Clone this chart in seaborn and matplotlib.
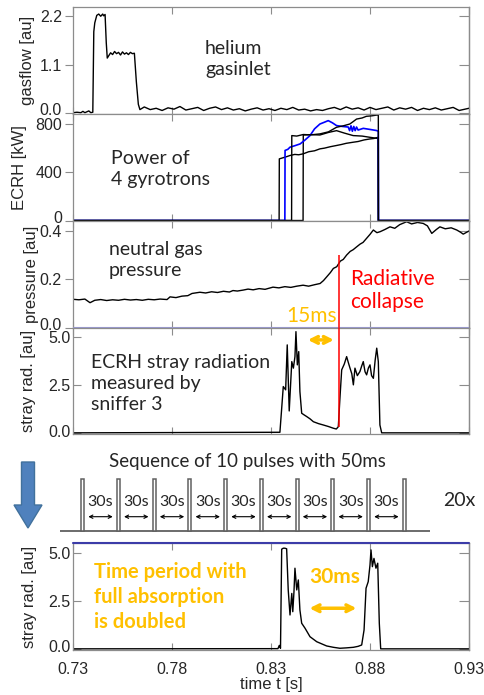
import numpy as np
import pandas as pd
import matplotlib
matplotlib.use("Agg")
import matplotlib.pyplot as plt
import matplotlib.transforms as mtransforms
import seaborn as sns
from matplotlib.patches import FancyArrow

# ---------------- data ----------------
x_ticks = [0.73, 0.78, 0.83, 0.88, 0.93]
x_ticklabels = ["0.73", "0.78", "0.83", "0.88", "0.93"]

gas_t = [0.730, 0.732, 0.734, 0.735, 0.736, 0.737, 0.738, 0.739, 0.7400, 0.7405,
         0.7410, 0.7420, 0.7430, 0.7440, 0.7450, 0.7455, 0.7462, 0.7468, 0.7473, 0.7480,
         0.7490, 0.7500, 0.7510, 0.7520, 0.7530, 0.7540, 0.7550, 0.7560, 0.7570, 0.7580,
         0.7590, 0.7600, 0.7610, 0.7620, 0.7630, 0.7638,
         0.766, 0.769, 0.772, 0.775, 0.778, 0.781, 0.784, 0.787, 0.790, 0.793,
         0.796, 0.799, 0.802, 0.805, 0.808, 0.811, 0.814, 0.817, 0.820, 0.823,
         0.826, 0.829, 0.832, 0.835, 0.838, 0.841, 0.844, 0.847, 0.850, 0.853,
         0.856, 0.859, 0.862, 0.865, 0.868, 0.871, 0.874, 0.877, 0.880, 0.883,
         0.886, 0.889, 0.892, 0.895, 0.898, 0.901, 0.904, 0.907, 0.910, 0.913,
         0.916, 0.919, 0.922, 0.925, 0.928, 0.930]
gas_v = [0.01, 0.02, 0.01, 0.04, 0.01, 0.03, 0.05, 0.01, 0.02, 1.85,
         2.05, 2.22, 2.25, 2.20, 2.25, 2.21, 2.24, 1.60, 1.25, 1.30,
         1.37, 1.33, 1.40, 1.35, 1.38, 1.32, 1.39, 1.34, 1.37, 1.33,
         1.38, 1.35, 1.36, 0.71, 0.20, 0.08,
         0.14, 0.08, 0.11, 0.06, 0.12, 0.09, 0.15, 0.07, 0.10, 0.13,
         0.06, 0.11, 0.14, 0.08, 0.12, 0.07, 0.10, 0.05, 0.09, 0.12,
         0.07, 0.10, 0.06, 0.11, 0.08, 0.13, 0.07, 0.09, 0.05, 0.08,
         0.06, 0.10, 0.13, 0.08, 0.14, 0.09, 0.12, 0.07, 0.13, 0.08,
         0.11, 0.14, 0.07, 0.12, 0.09, 0.13, 0.06, 0.11, 0.08, 0.12,
         0.07, 0.10, 0.13, 0.06, 0.09, 0.11]

gyroA_t = [0.730, 0.8341, 0.8342, 0.8360, 0.8380, 0.8396, 0.8420, 0.8440, 0.8463, 0.8490,
           0.8520, 0.8547, 0.8570, 0.8600, 0.8631, 0.8655, 0.8680, 0.8715, 0.8740, 0.8770,
           0.8799, 0.8820, 0.8841, 0.8842, 0.930]
gyroA_v = [0, 0, 511, 520, 530, 539, 548, 545, 553, 570,
           578, 594, 600, 612, 622, 630, 640, 649, 655, 668,
           676, 680, 690, 0, 0]

gyroB_t = [0.730, 0.8370, 0.8371, 0.8385, 0.8396, 0.8420, 0.8447, 0.8470, 0.8497, 0.8520,
           0.8547, 0.8570, 0.8589, 0.8610, 0.8631, 0.8660, 0.8690, 0.8697, 0.8704, 0.8711,
           0.8718, 0.8725, 0.8732, 0.8740, 0.8766, 0.8800, 0.8833, 0.8842, 0.8843, 0.930]
gyroB_v = [0, 0, 581, 590, 608, 620, 635, 665, 704, 760,
           800, 815, 828, 810, 787, 780, 775, 745, 785, 740,
           780, 745, 775, 750, 764, 755, 746, 740, 0, 0]

gyroC_t = [0.730, 0.8404, 0.8405, 0.8430, 0.8463, 0.8500, 0.8547, 0.8590, 0.8631, 0.8665,
           0.8698, 0.8715, 0.8732, 0.8760, 0.8782, 0.8810, 0.8833, 0.8842, 0.8843, 0.930]
gyroC_v = [0, 0, 704, 700, 713, 710, 718, 735, 773, 785,
           800, 820, 841, 850, 864, 868, 874, 874, 0, 0]

gyroD_t = [0.730, 0.8462, 0.8463, 0.8500, 0.8547, 0.8590, 0.8631, 0.8670, 0.8715, 0.8760,
           0.8799, 0.8841, 0.8842, 0.930]
gyroD_v = [0, 0, 709, 712, 709, 730, 745, 725, 704, 700,
           690, 680, 0, 0]

press_t = [0.730, 0.733, 0.736, 0.7386, 0.741, 0.744, 0.747, 0.750, 0.753, 0.756,
           0.759, 0.762, 0.765, 0.768, 0.771, 0.774, 0.7775, 0.779, 0.782, 0.785,
           0.788, 0.7901, 0.7941, 0.797, 0.800, 0.803, 0.806, 0.809, 0.8108, 0.813,
           0.816, 0.8184, 0.821, 0.824, 0.827, 0.831, 0.834, 0.837, 0.840, 0.843,
           0.8462, 0.849, 0.852, 0.8548, 0.8565, 0.8581, 0.8600, 0.8615, 0.8632, 0.8650,
           0.8665, 0.8682, 0.8700, 0.8715, 0.8733, 0.8750, 0.8765, 0.8783, 0.8800, 0.8817,
           0.8835, 0.8851, 0.8875, 0.8901, 0.8925, 0.895, 0.8985, 0.901, 0.904, 0.9069,
           0.909, 0.9112, 0.9135, 0.9153, 0.918, 0.921, 0.9238, 0.9255, 0.9271, 0.930]
press_v = [0.118, 0.116, 0.119, 0.104, 0.114, 0.117, 0.113, 0.116, 0.114, 0.118,
           0.115, 0.117, 0.114, 0.118, 0.116, 0.119, 0.117, 0.128, 0.125, 0.131,
           0.133, 0.142, 0.147, 0.144, 0.149, 0.146, 0.151, 0.148, 0.154, 0.152,
           0.156, 0.160, 0.157, 0.162, 0.159, 0.168, 0.165, 0.170, 0.167, 0.172,
           0.176, 0.172, 0.178, 0.183, 0.195, 0.210, 0.228, 0.245, 0.252, 0.275,
           0.282, 0.300, 0.315, 0.322, 0.334, 0.345, 0.352, 0.369, 0.385, 0.403,
           0.392, 0.396, 0.405, 0.416, 0.410, 0.425, 0.437, 0.428, 0.434, 0.430,
           0.420, 0.389, 0.405, 0.416, 0.408, 0.412, 0.403, 0.395, 0.386, 0.399]

stray1_t = [0.730, 0.8345, 0.8354, 0.8362, 0.8374, 0.8382, 0.8392, 0.8405, 0.8413, 0.8421,
            0.8426, 0.8433, 0.8440, 0.8446, 0.8455, 0.8468, 0.8480, 0.8497, 0.8514, 0.8540,
            0.8564, 0.8590, 0.8615, 0.8630, 0.8640, 0.8648, 0.8657, 0.8670, 0.8682, 0.8690,
            0.8699, 0.8708, 0.8716, 0.8724, 0.8736, 0.8749, 0.8758, 0.8766, 0.8775, 0.8783,
            0.8792, 0.8800, 0.8808, 0.8817, 0.8826, 0.8834, 0.8842, 0.8850, 0.8859, 0.930]
stray1_v = [0.02, 0.05, 1.30, 2.43, 2.26, 4.60, 1.16, 3.73, 3.39, 3.99,
            5.29, 3.56, 4.25, 2.17, 1.04, 0.95, 0.87, 0.75, 0.60, 0.50,
            0.43, 0.35, 0.26, 0.22, 0.34, 1.80, 3.30, 3.60, 3.99, 3.70,
            3.39, 3.10, 2.52, 3.39, 3.00, 3.21, 3.50, 3.73, 3.20, 3.04,
            3.40, 3.56, 3.00, 2.86, 3.80, 4.43, 3.73, 0.43, 0.02, 0.02]

stray2_t = [0.730, 0.8335, 0.8342, 0.8348, 0.8354, 0.8362, 0.8370, 0.8379, 0.8387, 0.8396,
            0.8405, 0.8410, 0.8416, 0.8421, 0.8430, 0.8438, 0.8446, 0.8455, 0.8472, 0.8497,
            0.8531, 0.8556, 0.8581, 0.8615, 0.8648, 0.8680, 0.8716, 0.8740, 0.8758, 0.8770,
            0.8780, 0.8791, 0.8800, 0.8805, 0.8812, 0.8820, 0.8830, 0.8839, 0.8847, 0.8854,
            0.930]
stray2_v = [0.02, 0.03, 0.20, 0.05, 5.20, 5.25, 5.25, 5.22, 3.08, 1.78,
            2.90, 1.95, 2.99, 4.21, 3.08, 3.60, 2.04, 1.35, 1.09, 0.65,
            0.39, 0.28, 0.17, 0.10, 0.05, 0.07, 0.10, 0.15, 0.22, 1.00,
            3.17, 3.51, 4.38, 5.16, 4.29, 4.72, 4.21, 4.47, 1.35, 0.02,
            0.02]

t_collapse = 0.8643
n_pulses = 10
pulse_gap_label = "30s"

# ---------------- style ----------------
sns.set_style("white")
plt.rcParams["font.family"] = ["Liberation Sans", "DejaVu Sans"]
ANN = ["Lato", "DejaVu Sans"]
GOLD = "#FFC000"
SPINE = "#8c8c8c"

W, H = 485, 695
fig = plt.figure(figsize=(W / 100, H / 100), dpi=100)


def px_axes(x0, y0, x1, y1, **kw):
    return fig.add_axes([x0 / W, 1 - y1 / H, (x1 - x0) / W, (y1 - y0) / H], **kw)


ov = px_axes(0, 0, W, H)
ov.set_xlim(0, W)
ov.set_ylim(H, 0)
ov.axis("off")

ax1 = px_axes(73, 7, 469, 114)
ax2 = px_axes(73, 114, 469, 221)
ax3 = px_axes(73, 221, 469, 328)
ax4 = px_axes(73, 328, 469, 434)
ax5 = px_axes(73, 543, 469, 650)


def style(ax, ylim, yticks, ylabels, ylabel, lab_x, ldir, lift):
    ax.set_xlim(0.73, 0.93)
    ax.set_ylim(*ylim)
    ax.set_xticks(x_ticks)
    ax.set_xticklabels(x_ticklabels)
    ax.set_yticks(yticks)
    ax.set_yticklabels(ylabels)
    for s in ax.spines.values():
        s.set_color(SPINE)
        s.set_linewidth(0.9)
    ax.tick_params(axis="x", direction="in", top=True, bottom=True, length=5,
                   color=SPINE, labelbottom=False, labelsize=11.5, pad=8.5)
    ax.tick_params(axis="y", direction=ldir, left=True, length=6, color=SPINE,
                   labelsize=11.5, pad=2)
    sec = ax.secondary_yaxis("right")
    sec.set_yticks(yticks)
    sec.set_yticklabels([])
    sec.tick_params(direction="in", length=7, color=SPINE)
    sec.spines["right"].set_color(SPINE)
    sec.spines["right"].set_linewidth(0.9)
    ax.set_ylabel(ylabel, fontsize=12, va="center")
    ax.yaxis.set_label_coords((lab_x - 73) / 396, 0.5)
    # lift the lowest tick label a little, as in the reference
    tk = ax.yaxis.get_major_ticks()[0]
    tk.label1.set_transform(tk.label1.get_transform() +
                            mtransforms.ScaledTranslation(0, lift / 100, fig.dpi_scale_trans))


def line(ax, t, v, color="black", lw=1.0):
    sns.lineplot(x=t, y=v, ax=ax, color=color, lw=lw, estimator=None, sort=False)


line(ax1, gas_t, gas_v)
line(ax2, gyroA_t, gyroA_v)
line(ax2, gyroD_t, gyroD_v)
line(ax2, gyroB_t, gyroB_v, color="#0000ff", lw=1.2)
line(ax2, gyroC_t, gyroC_v)
line(ax3, press_t, press_v)
line(ax4, stray1_t, stray1_v)
line(ax5, stray2_t, stray2_v)

style(ax1, (-0.02, 2.41), [0, 1.1, 2.2], ["0.0", "1.1", "2.2"], "gasflow [au]", 28, "out", 4)
style(ax2, (-4, 883), [0, 400, 800], ["0", "400", "800"], "ECRH [kW]", 20, "out", 4)
style(ax3, (0.0, 0.44), [0, 0.2, 0.4], ["0.0", "0.2", "0.4"], "pressure [au]", 32, "out", 4.5)
style(ax4, (-0.04, 5.48), [0, 2.5, 5.0], ["0.0", "2.5", "5.0"], "stray rad. [au]", 29, "in", 2)
style(ax5, (-0.04, 5.52), [0, 2.5, 5.0], ["0.0", "2.5", "5.0"], "stray rad. [au]", 30, "in", 3)
ax5.tick_params(axis="x", labelbottom=True)
ax5.set_xlabel("time t [s]", fontsize=12, labelpad=0)

# coloured boundary lines
ax3.axhline(0.0, color="#9a9ad2", lw=1.5, zorder=5)
ax5.axhline(5.52, color="#3c3ca8", lw=1.5, zorder=5, clip_on=False)

# annotations
ax1.text(0.7967, 1.23, "helium\ngasinlet", fontsize=14, family=ANN, va="center", linespacing=1.3)
ax2.text(0.7492, 428, "Power of\n4 gyrotrons", fontsize=14, family=ANN, va="center", linespacing=1.3)
ax3.text(0.7482, 0.28, "neutral gas\npressure", fontsize=14, family=ANN, va="center", linespacing=1.3)
ax4.text(0.7389, 2.6, "ECRH stray radiation\nmeasured by\nsniffer 3", fontsize=14, family=ANN,
         va="center", linespacing=1.3)
ax3.text(0.8699, 0.155, "Radiative\ncollapse", fontsize=15, family=ANN, color="red",
         va="center", linespacing=1.2)
ax3.text(0.8506, 0.048, "15ms", fontsize=15, family=ANN, color=GOLD, va="center", ha="center")
ax5.text(0.7406, 2.72, "Time period with\nfull absorption\nis doubled", fontsize=14.5,
         family=ANN, weight="bold", color=GOLD, va="center", linespacing=1.3)
ax5.text(0.8623, 3.77, "30ms", fontsize=15, family=ANN, weight="bold", color=GOLD,
         va="center", ha="center")

# red collapse line
ax3.vlines(t_collapse, 0, 0.30, color="red", lw=1.1, zorder=6)
ax4.vlines(t_collapse, 0.34, 5.48, color="red", lw=1.1, zorder=6)

# golden arrows
ax4.annotate("", xy=(0.8472, 4.86), xytext=(0.8632, 4.86),
             arrowprops=dict(arrowstyle="<->", color=GOLD, lw=2.5, mutation_scale=12))
ax5.annotate("", xy=(0.848, 2.13), xytext=(0.8746, 2.13),
             arrowprops=dict(arrowstyle="<->", color=GOLD, lw=2.5, mutation_scale=12))

# ---------------- pulse sequence diagram ----------------
axd = px_axes(60, 475, 430, 535)
axd.set_xlim(-0.635, 9.72)
axd.set_ylim(0, 1)
axd.axis("off")
pulse_idx = np.arange(n_pulses)
axd.axhline(0.072, color="#606060", lw=1.3)
axd.bar(pulse_idx, 0.928 - 0.072, bottom=0.072, width=0.085, facecolor="white",
        edgecolor="#606060", lw=1.1, zorder=3)
for k in pulse_idx[:-1]:
    axd.annotate("", xy=(k + 0.08, 0.305), xytext=(k + 0.92, 0.305),
                 arrowprops=dict(arrowstyle="<->", color="black", lw=0.8, mutation_scale=6))
    axd.text(k + 0.5, 0.555, pulse_gap_label, ha="center", va="center", fontsize=11.5,
             family=ANN)
fig.text(247 / W, 1 - 461 / H, "Sequence of 10 pulses with 50ms", ha="center", va="center",
         fontsize=13.5, family=ANN)
fig.text(443 / W, 1 - 500 / H, "20x", ha="left", va="center", fontsize=14, family=ANN)

# blue down arrow
ov.add_patch(FancyArrow(28, 462, 0, 66, width=13, head_width=28, head_length=23,
                        length_includes_head=True, fc="#4F81BD", ec="#41719C", lw=1))

fig.savefig("out.png", dpi=100)
